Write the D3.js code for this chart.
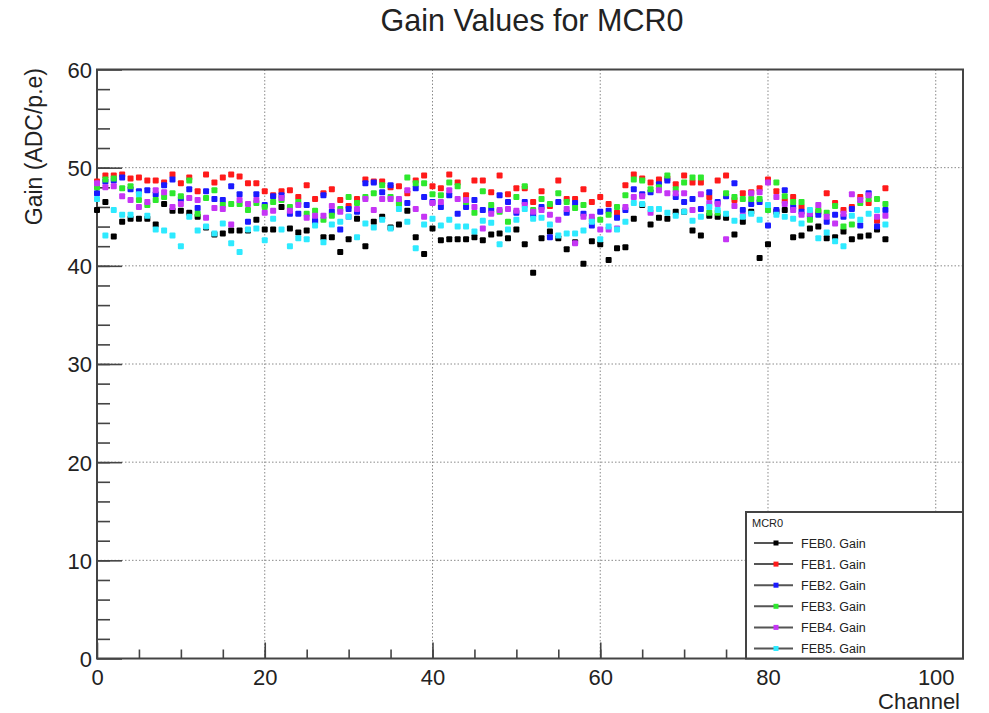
<!DOCTYPE html>
<html>
<head>
<meta charset="utf-8">
<script src="https://cdn.jsdelivr.net/npm/d3@7"></script>
<style>
body { margin: 0; background: #fff; }
text { font-family: "Liberation Sans", Arial, Helvetica, sans-serif; fill: #222; }
</style>
</head>
<body>
<script>
var width = 989;
var height = 713;

// channel numbers and gain per FEB
var channels = d3.range(0, 95);

var feb0 = [45.7, 46.5, 43.0, 44.5, 44.8, 44.8, 44.8, 44.2, 46.3, 45.6,
    45.6, 45.4, 45.0, 43.9, 43.2, 43.3, 43.6, 43.6, 43.6, 44.7,
    43.7, 43.7, 46.0, 43.8, 43.4, 43.6, 44.5, 42.9, 42.9, 41.4,
    42.7, 44.8, 42.0, 44.5, 45.0, 43.9, 44.2, 45.6, 42.9, 41.2,
    43.8, 42.6, 42.7, 42.7, 42.7, 42.9, 42.6, 43.2, 43.3, 42.8,
    43.7, 42.2, 39.3, 42.8, 43.5, 42.8, 41.7, 42.4, 40.2, 42.5,
    42.2, 40.6, 41.8, 41.9, 44.8, 46.2, 44.2, 44.9, 44.8, 45.5,
    45.5, 43.6, 43.1, 45.1, 45.0, 44.9, 43.2, 44.5, 45.5, 40.8,
    42.2, 45.5, 45.7, 42.9, 43.1, 43.8, 44.0, 42.8, 42.9, 43.5,
    42.7, 43.0, 43.1, 43.7, 42.7];

var feb1 = [48.6, 49.2, 49.2, 49.3, 48.9, 49.0, 48.7, 48.7, 48.5, 49.3,
    48.4, 49.0, 47.6, 49.3, 48.5, 49.0, 49.3, 49.1, 48.4, 48.4,
    47.6, 47.2, 47.6, 47.7, 47.0, 48.2, 46.8, 47.4, 47.8, 46.7,
    46.1, 46.8, 48.8, 48.6, 48.6, 48.0, 48.1, 47.4, 48.7, 49.2,
    48.1, 47.9, 49.3, 48.5, 47.2, 48.7, 48.7, 47.5, 49.2, 47.3,
    47.9, 47.9, 46.5, 47.6, 46.1, 48.7, 46.8, 46.8, 47.8, 46.5,
    47.0, 46.3, 45.4, 48.2, 49.3, 48.9, 48.5, 48.8, 48.9, 48.3,
    49.2, 48.5, 48.5, 47.0, 48.7, 49.2, 46.7, 47.4, 47.5, 47.9,
    48.8, 47.6, 46.6, 47.0, 46.0, 45.2, 45.5, 47.4, 46.4, 45.7,
    46.0, 47.0, 46.4, 44.6, 47.9];

var feb2 = [47.4, 48.6, 48.7, 49.0, 47.8, 47.6, 47.7, 47.3, 48.2, 48.8,
    46.8, 47.8, 45.9, 47.6, 46.8, 46.7, 48.1, 47.3, 44.5, 47.3,
    46.2, 47.1, 47.2, 45.3, 45.3, 46.2, 44.6, 47.2, 45.5, 43.7,
    45.8, 45.5, 48.4, 48.5, 47.5, 48.2, 46.5, 46.4, 47.9, 47.0,
    46.5, 46.0, 47.2, 45.3, 46.0, 46.7, 45.7, 45.7, 47.2, 46.5,
    45.4, 46.5, 45.2, 46.0, 42.9, 46.5, 45.4, 46.4, 45.3, 44.1,
    45.5, 45.6, 44.9, 45.7, 47.8, 47.3, 47.5, 48.3, 48.7, 47.0,
    46.5, 46.8, 45.8, 47.5, 46.5, 47.1, 48.4, 45.7, 46.3, 46.5,
    44.1, 45.7, 47.7, 46.0, 45.5, 45.0, 45.2, 44.5, 45.2, 45.0,
    45.8, 44.1, 47.4, 44.0, 45.7];

var feb3 = [48.0, 48.8, 48.9, 47.9, 48.1, 46.7, 46.2, 46.7, 47.0, 47.4,
    47.1, 48.7, 45.3, 46.9, 47.7, 46.2, 46.3, 46.3, 45.7, 46.4,
    46.0, 46.5, 46.7, 46.0, 46.5, 45.3, 45.6, 44.7, 45.1, 45.8,
    47.0, 46.4, 47.0, 47.4, 48.2, 47.0, 46.3, 49.0, 48.4, 48.4,
    47.3, 47.2, 48.5, 48.1, 46.5, 45.4, 47.6, 46.2, 45.5, 44.5,
    47.0, 48.1, 45.7, 46.8, 46.3, 47.4, 46.5, 45.9, 46.2, 44.7,
    44.7, 45.2, 46.0, 47.2, 48.8, 48.7, 47.8, 48.0, 49.2, 47.8,
    48.5, 49.0, 49.0, 45.4, 45.4, 47.4, 47.0, 46.8, 46.8, 46.8,
    45.7, 48.5, 47.1, 46.5, 46.5, 44.7, 45.7, 45.4, 46.1, 44.0,
    44.2, 46.4, 46.8, 46.8, 46.3];

var feb4 = [48.4, 48.0, 48.1, 47.1, 46.7, 46.0, 46.5, 47.7, 47.5, 46.0,
    46.3, 46.9, 46.7, 44.9, 45.9, 45.8, 44.2, 46.7, 46.3, 46.7,
    45.4, 45.6, 46.9, 45.6, 46.2, 44.9, 45.1, 45.1, 46.1, 45.5,
    45.0, 45.8, 46.8, 45.7, 46.8, 46.8, 46.8, 47.7, 45.8, 45.0,
    46.4, 46.5, 47.7, 46.8, 46.7, 46.0, 43.8, 45.3, 45.7, 45.8,
    45.6, 46.2, 45.5, 45.7, 45.2, 44.7, 45.8, 42.3, 45.0, 45.0,
    43.7, 43.7, 43.8, 46.0, 47.0, 47.1, 45.4, 47.7, 47.4, 47.4,
    47.4, 45.7, 47.3, 46.4, 46.3, 42.7, 46.1, 45.1, 47.4, 47.5,
    48.5, 47.0, 46.3, 45.7, 45.2, 45.3, 46.2, 45.0, 44.3, 45.3,
    47.3, 46.7, 47.2, 45.0, 45.1];

var feb5 = [46.8, 43.1, 45.7, 45.2, 45.2, 47.3, 45.1, 43.7, 43.6, 43.1,
    42.0, 45.0, 43.6, 44.0, 43.3, 44.3, 42.3, 41.4, 43.7, 43.8,
    42.6, 44.8, 43.7, 42.0, 42.8, 42.7, 44.1, 42.4, 44.2, 44.5,
    45.0, 42.9, 44.3, 43.9, 44.7, 43.8, 45.8, 44.5, 41.8, 44.2,
    44.8, 44.1, 44.7, 44.0, 44.0, 43.5, 44.6, 44.4, 42.2, 43.7,
    44.7, 45.8, 44.8, 44.9, 44.2, 43.1, 43.3, 43.3, 43.6, 44.5,
    42.7, 44.0, 43.7, 44.5, 46.4, 46.3, 45.8, 45.8, 45.4, 45.1,
    45.5, 44.6, 45.0, 46.0, 45.7, 45.3, 44.6, 45.0, 45.3, 44.7,
    46.2, 45.2, 45.0, 44.8, 44.3, 45.7, 42.8, 43.4, 42.5, 42.0,
    45.1, 44.7, 45.3, 45.7, 44.2];

var series_names = ["FEB0. Gain", "FEB1. Gain", "FEB2. Gain", "FEB3. Gain", "FEB4. Gain", "FEB5. Gain"];
var series_values = [feb0, feb1, feb2, feb3, feb4, feb5];
var series_colors = ["#000000", "#ff1a1a", "#1a1aff", "#2ee82e", "#c535f5", "#2eeaff"];

var x_ticks = [0, 20, 40, 60, 80, 100];
var y_ticks = [0, 10, 20, 30, 40, 50, 60];

var plot_left = 97, plot_right = 963, plot_top = 69.5, plot_bottom = 658.5;

var svg = d3.select("body")
    .append("svg")
    .attr("width", width)
    .attr("height", height);

svg.append("rect")
    .attr("width", width)
    .attr("height", height)
    .attr("fill", "#fff");

var x = d3.scaleLinear().domain([0, 103.25]).range([plot_left, plot_right]);
var y = d3.scaleLinear().domain([0, 60]).range([plot_bottom, plot_top]);

// dotted grid
svg.append("g")
    .selectAll("line")
    .data(x_ticks.filter(function(d) { return d > 0; }))
    .enter()
    .append("line")
    .attr("x1", function(d) { return x(d); })
    .attr("x2", function(d) { return x(d); })
    .attr("y1", plot_top)
    .attr("y2", plot_bottom)
    .attr("stroke", "#8a8a8a")
    .attr("stroke-width", 1)
    .attr("stroke-dasharray", "1.5,2");

svg.append("g")
    .selectAll("line")
    .data(y_ticks.filter(function(d) { return d > 0 && d < 60; }))
    .enter()
    .append("line")
    .attr("x1", plot_left)
    .attr("x2", plot_right)
    .attr("y1", function(d) { return y(d); })
    .attr("y2", function(d) { return y(d); })
    .attr("stroke", "#8a8a8a")
    .attr("stroke-width", 1)
    .attr("stroke-dasharray", "1.5,2");

// axes, ticks drawn inside the frame
var x_axis = svg.append("g")
    .attr("transform", "translate(0," + plot_bottom + ")")
    .call(d3.axisBottom(x).tickValues(x_ticks).tickSize(-16).tickPadding(11));
var x_minor = svg.append("g")
    .attr("transform", "translate(0," + plot_bottom + ")")
    .call(d3.axisBottom(x).tickValues(d3.range(5, 101, 5)).tickSize(-9).tickFormat(""));

var y_axis = svg.append("g")
    .attr("transform", "translate(" + plot_left + ",0)")
    .call(d3.axisLeft(y).tickValues(y_ticks).tickSize(-25).tickPadding(5));
var y_minor = svg.append("g")
    .attr("transform", "translate(" + plot_left + ",0)")
    .call(d3.axisLeft(y).tickValues(d3.range(2, 60, 2)).tickSize(-13).tickFormat(""));

[x_axis, x_minor, y_axis, y_minor].forEach(function(g) {
    g.select(".domain").remove();
    g.selectAll(".tick line").attr("stroke", "#444").attr("stroke-width", 1.6);
    g.selectAll(".tick text")
        .attr("font-family", "Liberation Sans, Arial, sans-serif")
        .attr("font-size", "22px")
        .attr("fill", "#222");
});
y_axis.selectAll(".tick text").attr("dy", "0.36em");
x_axis.selectAll(".tick text").attr("dy", "0.72em");

// frame
svg.append("rect")
    .attr("x", plot_left)
    .attr("y", plot_top)
    .attr("width", plot_right - plot_left)
    .attr("height", plot_bottom - plot_top)
    .attr("fill", "none")
    .attr("stroke", "#444")
    .attr("stroke-width", 2);

// markers
var groups = svg.selectAll("g.series")
    .data(series_values)
    .enter()
    .append("g")
    .attr("class", "series")
    .attr("fill", function(d, i) { return series_colors[i]; });

groups.selectAll("rect")
    .data(function(d) { return d.map(function(v, j) { return {c: channels[j], v: v}; }); })
    .enter()
    .append("rect")
    .attr("x", function(d) { return x(d.c) - 3; })
    .attr("y", function(d) { return y(d.v) - 3; })
    .attr("width", 6)
    .attr("height", 6)
    .attr("rx", 1);

// titles
svg.append("text")
    .attr("x", 532)
    .attr("y", 31)
    .attr("text-anchor", "middle")
    .attr("font-size", "30.5px")
    .text("Gain Values for MCR0");

svg.append("text")
    .attr("transform", "translate(42,68) rotate(-90)")
    .attr("text-anchor", "end")
    .attr("font-size", "23px")
    .text("Gain (ADC/p.e)");

svg.append("text")
    .attr("x", 960)
    .attr("y", 709)
    .attr("text-anchor", "end")
    .attr("font-size", "22px")
    .text("Channel");

// legend
var lg = svg.append("g");
lg.append("rect")
    .attr("x", 746)
    .attr("y", 512)
    .attr("width", 217)
    .attr("height", 146.5)
    .attr("fill", "#fff")
    .attr("stroke", "#444")
    .attr("stroke-width", 2);

lg.append("text")
    .attr("x", 752)
    .attr("y", 527)
    .attr("font-size", "11px")
    .text("MCR0");

var entries = lg.selectAll("g.entry")
    .data(series_names)
    .enter()
    .append("g")
    .attr("class", "entry")
    .attr("transform", function(d, i) { return "translate(0," + (543 + i * 21.1) + ")"; });

entries.append("line")
    .attr("x1", 754)
    .attr("x2", 793)
    .attr("stroke", "#555")
    .attr("stroke-width", 2);

entries.append("rect")
    .attr("x", 773.5)
    .attr("y", -2.5)
    .attr("width", 5)
    .attr("height", 5)
    .attr("fill", function(d, i) { return series_colors[i]; });

entries.append("text")
    .attr("x", 801)
    .attr("y", 4.5)
    .attr("font-size", "12.5px")
    .attr("fill", "#333")
    .text(function(d) { return d; });
</script>
</body>
</html>
